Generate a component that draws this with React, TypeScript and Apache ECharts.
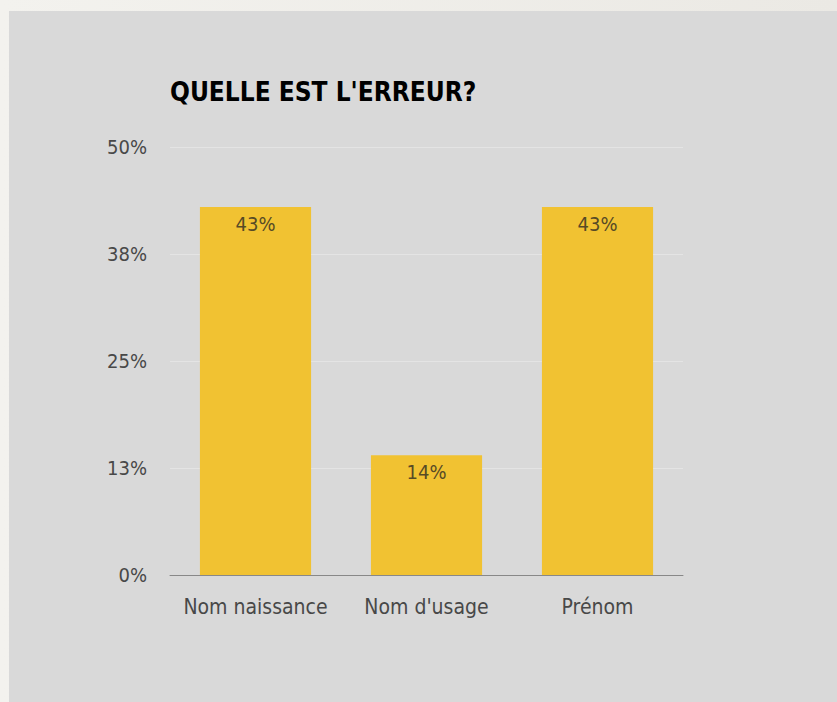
import React, { useEffect, useRef } from "react";
import * as echarts from "echarts";

const categories = ["Nom naissance", "Nom d'usage", "Prénom"];
const values = [43, 14, 43];
const yTicks = { min: 0, max: 50, interval: 12.5 };
const title = "QUELLE EST L'ERREUR?";

const FONT = "'Liberation Sans Narrow', 'DejaVu Sans Condensed', 'Liberation Sans', Arial, sans-serif";

export default function App() {
  const ref = useRef<HTMLDivElement>(null);
  useEffect(() => {
    if (!ref.current) return;
    const chart = echarts.init(ref.current, undefined, { renderer: "svg" });
    chart.setOption({
      animation: false,
      backgroundColor: "#d9d9d9",
      title: {
        text: title,
        left: 161,
        top: 68,
        padding: 0,
        textStyle: {
          fontFamily: FONT,
          fontWeight: "bold",
          fontSize: 26,
          color: "#000000",
        },
      },
      grid: { left: 161, right: 154, top: 136, bottom: 127, containLabel: false },
      xAxis: {
        type: "category",
        data: categories,
        axisLine: { lineStyle: { color: "#888888", width: 1 } },
        axisTick: { show: false },
        axisLabel: {
          interval: 0,
          fontFamily: FONT,
          fontSize: 21,
          color: "#484848",
          margin: 21,
        },
      },
      yAxis: {
        type: "value",
        min: yTicks.min,
        max: yTicks.max,
        interval: yTicks.interval,
        axisLine: { show: false },
        axisTick: { show: false },
        splitLine: { lineStyle: { color: "#e4e4e4", width: 1 } },
        axisLabel: {
          fontFamily: FONT,
          fontSize: 20,
          color: "#484848",
          margin: 23,
          formatter: (v: number) => Math.round(v) + "%",
        },
      },
      series: [
        {
          type: "bar",
          data: values,
          barWidth: "65%",
          itemStyle: { color: "#f1c232" },
          label: {
            show: true,
            position: "insideTop",
            distance: 7,
            fontFamily: FONT,
            fontSize: 20,
            color: "#574a26",
            formatter: (p: any) => p.value + "%",
          },
        },
      ],
    });
    return () => chart.dispose();
  }, []);
  return (
    <div
      style={{
        position: "fixed",
        left: 0,
        top: 0,
        width: 837,
        height: 702,
        background: "linear-gradient(90deg, #f3f2ee 0%, #ebe9e4 100%)",
      }}
    >
      <div
        ref={ref}
        style={{ position: "absolute", left: 9, top: 11, width: 828, height: 691 }}
      />
    </div>
  );
}
